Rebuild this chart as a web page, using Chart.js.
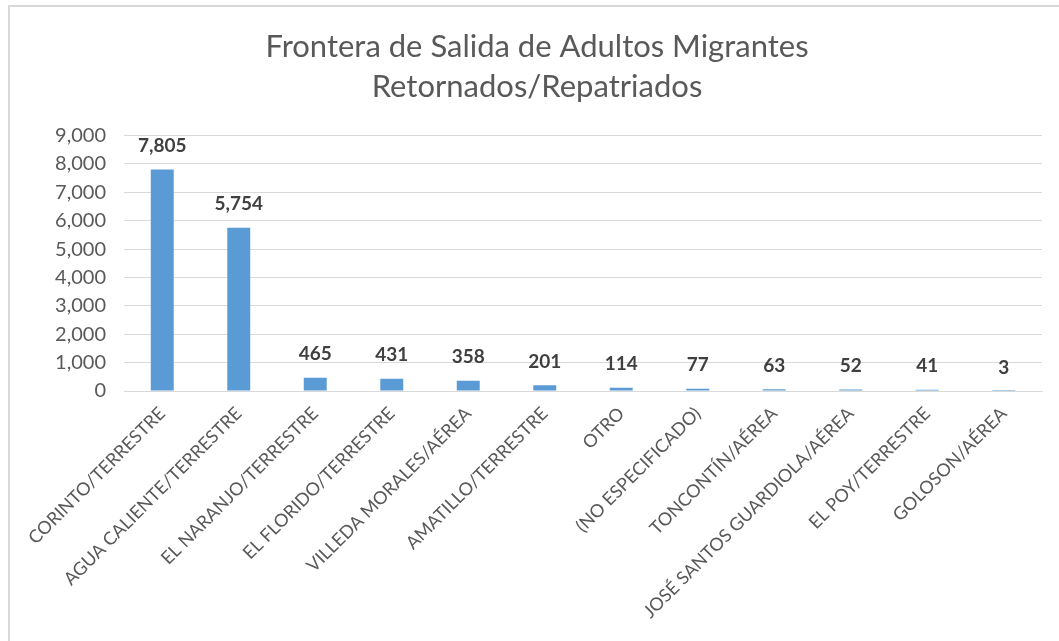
<!DOCTYPE html>
<html>
<head>
<meta charset="utf-8">
<script src="https://cdn.jsdelivr.net/npm/chart.js@4/dist/chart.umd.min.js"></script>
<style>
    html, body { margin: 0; padding: 0; background: #fff; overflow: hidden; }
    #frame {
        position: absolute;
        left: 8px;
        top: 5px;
        width: 1100px;
        height: 700px;
        border: 2px solid #d9d9d9;
        box-sizing: border-box;
    }
    #wrap {
        position: absolute;
        left: 10px;
        top: 7px;
        width: 1049px;
        height: 634px;
    }
</style>
</head>
<body>
<div id="frame"></div>
<div id="wrap"><canvas id="chart"></canvas></div>
<script>
const categories = [
    'CORINTO/TERRESTRE',
    'AGUA CALIENTE/TERRESTRE',
    'EL NARANJO/TERRESTRE',
    'EL FLORIDO/TERRESTRE',
    'VILLEDA MORALES/AÉREA',
    'AMATILLO/TERRESTRE',
    'OTRO',
    '(NO ESPECIFICADO)',
    'TONCONTÍN/AÉREA',
    'JOSÉ SANTOS GUARDIOLA/AÉREA',
    'EL POY/TERRESTRE',
    'GOLOSON/AÉREA'
];
const adultos = [7805, 5754, 465, 431, 358, 201, 114, 77, 63, 52, 41, 3];
const titleLines = ['Frontera de Salida de Adultos Migrantes', 'Retornados/Repatriados'];
const yMax = 9000;
const yStep = 1000;

const fontFamily = 'Lato, "Open Sans", sans-serif';

// etiquetas de valor encima de cada barra
const valueLabels = {
    id: 'valueLabels',
    afterDatasetsDraw(chart) {
        const ctx = chart.ctx;
        const meta = chart.getDatasetMeta(0);
        ctx.save();
        ctx.font = 'bold 19px ' + fontFamily;
        ctx.fillStyle = '#404040';
        ctx.textAlign = 'center';
        ctx.textBaseline = 'bottom';
        meta.data.forEach((bar, i) => {
            const v = chart.data.datasets[0].data[i];
            ctx.fillText(v.toLocaleString('en-US'), bar.x, bar.y - 14);
        });
        ctx.restore();
    }
};

new Chart(document.getElementById('chart').getContext('2d'), {
    type: 'bar',
    data: {
        labels: categories,
        datasets: [{
            label: 'Adultos',
            data: adultos,
            backgroundColor: '#5b9bd5',
            categoryPercentage: 1,
            barPercentage: 0.3
        }]
    },
    options: {
        responsive: true,
        maintainAspectRatio: false,
        animation: false,
        layout: {
            padding: { left: 22, right: 17, top: 0, bottom: 0 }
        },
        scales: {
            x: {
                grid: { display: false, drawTicks: false },
                border: { display: true, color: '#d9d9d9', width: 1 },
                ticks: {
                    color: '#595959',
                    font: { family: fontFamily, size: 18 },
                    minRotation: 45,
                    maxRotation: 45,
                    autoSkip: false,
                    padding: 12
                },
                afterFit(scale) { scale.height = 250; }
            },
            y: {
                min: 0,
                max: yMax,
                grid: { color: '#d9d9d9', drawTicks: false },
                border: { display: false },
                ticks: {
                    stepSize: yStep,
                    color: '#595959',
                    font: { family: fontFamily, size: 20 },
                    padding: 18,
                    callback: value => value.toLocaleString('en-US')
                },
                afterFit(scale) { scale.width = 92; }
            }
        },
        plugins: {
            legend: { display: false },
            tooltip: { enabled: false },
            title: {
                display: true,
                text: titleLines,
                color: '#595959',
                font: { family: fontFamily, size: 31, weight: 'normal', lineHeight: 1.3 },
                padding: { top: 20, bottom: 28 }
            }
        }
    },
    plugins: [valueLabels]
});
</script>
</body>
</html>
